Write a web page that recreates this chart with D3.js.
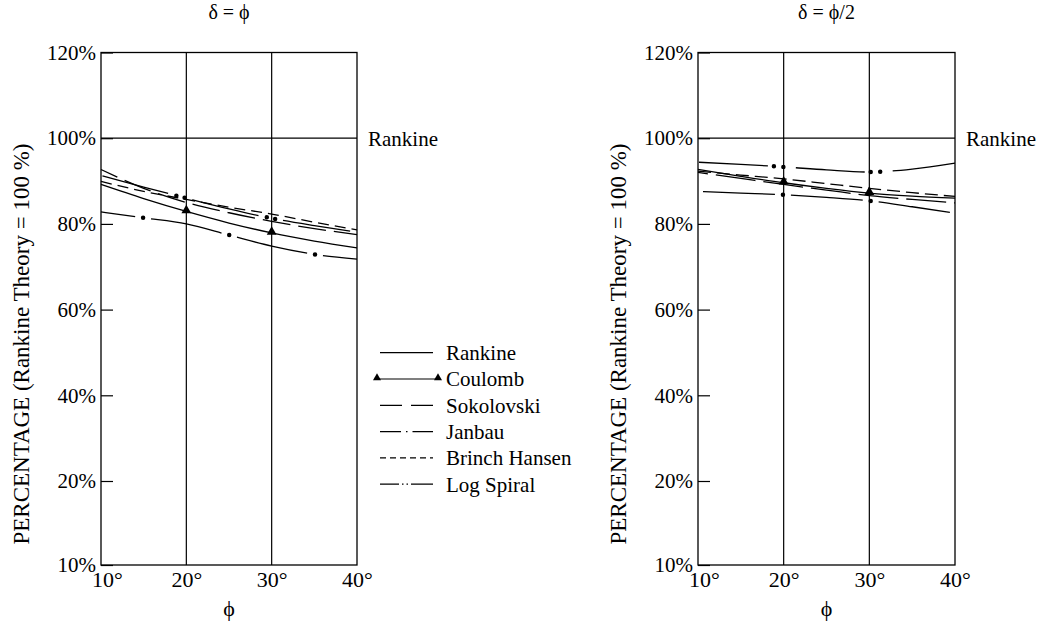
<!DOCTYPE html>
<html>
<head>
<meta charset="utf-8">
<script src="https://cdn.jsdelivr.net/npm/d3@7"></script>
<style>
  html, body { margin: 0; padding: 0; background: #fff; }
  svg { display: block; }
  svg text { font-family: "Liberation Serif", "Tinos", "Times New Roman", "DejaVu Serif", "Noto Serif", serif !important; }
</style>
</head>
<body>
<svg id="chart" width="1041" height="628"></svg>
<script>
// ---------- data ----------
const phi = [10, 15, 20, 25, 30, 35, 40];
const xTicks = [10, 20, 30, 40];
const yTicks = [10, 20, 40, 60, 80, 100, 120];
const seriesNames = ["Rankine", "Coulomb", "Sokolovski", "Janbau", "Brinch Hansen", "Log Spiral"];
const coulombMarkers = [20, 30];
const rankineLevel = 100;

// delta = phi
const coulombA    = [89.2, 85.9, 82.9, 80.2, 77.9, 76.0, 74.4];
const sokolovskiA = [92.7, 88.3, 85.0, 82.6, 80.6, 78.9, 77.5];
const janbauA     = [82.8, 81.4, 80.0, 77.4, 74.8, 72.9, 71.8];
const brinchA     = [89.9, 87.6, 85.7, 83.9, 82.3, 80.4, 78.6];
const logSpiralA  = [91.3, 88.6, 86.0, 83.5, 81.3, 79.6, 78.1];

// delta = phi/2
const coulombB    = [92.7, 91.1, 89.6, 88.3, 87.2, 86.5, 86.0];
const sokolovskiB = [92.0, 90.6, 89.2, 87.9, 86.6, 85.7, 84.9];
const janbauB     = [87.6, 87.2, 86.8, 86.2, 85.4, 84.0, 82.5];
const brinchB     = [92.3, 91.4, 90.5, 89.4, 88.3, 87.3, 86.4];
const logSpiralB  = [94.4, 93.9, 93.3, 92.6, 92.1, 92.8, 94.2];

const titleA = "δ = ϕ";
const titleB = "δ = ϕ/2";
const yLabel = "PERCENTAGE (Rankine Theory = 100 %)";
const xLabel = "ϕ";

// ---------- layout / styles ----------
const svg = d3.select("#chart");
const FONT = 21;
const plotTop = 52.5, plotBottom = 565;

const panels = [
  { left: 101, right: 357, title: titleA,
    data: { Coulomb: coulombA, Sokolovski: sokolovskiA, Janbau: janbauA, "Brinch Hansen": brinchA, "Log Spiral": logSpiralA },
    style: {
      Sokolovski: { dash: "28 8", off: 10 },
      Janbau: { dash: "72 16", off: 37.5, dots: "0 88", dotOff: 37.5 - 80 + 88 },
      "Brinch Hansen": { dash: "11 6", off: 0 },
      "Log Spiral": { dash: "68 25", off: 91.5, dots: "0 8.5 0 84.5", dotOff: 91.5 - 76.5 }
    } },
  { left: 698, right: 955, title: titleB,
    data: { Coulomb: coulombB, Sokolovski: sokolovskiB, Janbau: janbauB, "Brinch Hansen": brinchB, "Log Spiral": logSpiralB },
    style: {
      Sokolovski: { dash: "40 8", off: 30 },
      Janbau: { dash: "72 16", off: 83, dots: "0 88", dotOff: 83 - 80 },
      "Brinch Hansen": { dash: "13 6", off: 0 },
      "Log Spiral": { dash: "69 28", off: 96, dots: "0 9.5 0 87.5", dotOff: 96 - 75 }
    } }
];

const y = d3.scaleLinear().domain([10, 20, 120]).range([plotBottom, 481, plotTop]);

panels.forEach((p, pi) => {
  const x = d3.scaleLinear().domain([10, 40]).range([p.left, p.right]);
  const g = svg.append("g");

  // title
  g.append("text").attr("x", (p.left + p.right) / 2).attr("y", 19)
    .attr("text-anchor", "middle").attr("font-size", 20).text(p.title);

  // frame
  g.append("rect").attr("x", p.left).attr("y", plotTop)
    .attr("width", p.right - p.left).attr("height", plotBottom - plotTop)
    .attr("fill", "none").attr("stroke", "#000").attr("stroke-width", 1.3);

  // vertical grid lines at interior ticks
  g.selectAll(".vgrid").data(xTicks.slice(1, -1)).join("line")
    .attr("x1", d => x(d)).attr("x2", d => x(d))
    .attr("y1", plotTop).attr("y2", plotBottom)
    .attr("stroke", "#000").attr("stroke-width", 1.2);

  // y axis
  const yAxis = d3.axisLeft(y).tickValues(yTicks)
    .tickFormat(d => d + "%").tickSizeInner(-12).tickSizeOuter(0).tickPadding(5);
  const ya = g.append("g").attr("transform", `translate(${p.left},0)`).call(yAxis);
  ya.attr("font-family", null);
  ya.select(".domain").remove();
  ya.selectAll(".tick line").attr("stroke", "#000").attr("stroke-width", 1.2);
  ya.selectAll(".tick text").attr("font-size", FONT).attr("fill", "#000");

  // x axis
  const xAxis = d3.axisBottom(x).tickValues(xTicks)
    .tickFormat(d => d + "°").tickSize(0).tickPadding(6);
  const xa = g.append("g").attr("transform", `translate(0,${plotBottom})`).call(xAxis);
  xa.attr("font-family", null);
  xa.select(".domain").remove();
  xa.selectAll(".tick text").attr("font-size", 22).attr("fill", "#000")
    .attr("dx", (d, i) => i === 0 ? 6 : 0);

  // axis labels
  g.append("text").attr("x", (p.left + p.right) / 2).attr("y", 616)
    .attr("text-anchor", "middle").attr("font-size", 22).text(xLabel);
  g.append("text")
    .attr("transform", `translate(${p.left - 72},344) rotate(-90)`)
    .attr("text-anchor", "middle").attr("font-size", 23).text(yLabel);

  // Rankine 100% line
  g.append("line").attr("x1", p.left).attr("x2", p.right)
    .attr("y1", y(rankineLevel)).attr("y2", y(rankineLevel))
    .attr("stroke", "#000").attr("stroke-width", 1.2);
  g.append("text").attr("x", p.right + 11).attr("y", y(rankineLevel))
    .attr("dy", "0.35em").attr("font-size", FONT).text("Rankine");

  // curves
  const line = d3.line().x((d, i) => x(phi[i])).y(d => y(d)).curve(d3.curveMonotoneX);
  seriesNames.slice(1).forEach(name => {
    const vals = p.data[name];
    const st = p.style[name] || {};
    const path = g.append("path").datum(vals).attr("d", line)
      .attr("fill", "none").attr("stroke", "#000").attr("stroke-width", 1.3);
    if (st.dash) path.attr("stroke-dasharray", st.dash).attr("stroke-dashoffset", st.off);
    if (st.dots) {
      g.append("path").datum(vals).attr("d", line)
        .attr("fill", "none").attr("stroke", "#000").attr("stroke-width", 4.5)
        .attr("stroke-linecap", "round")
        .attr("stroke-dasharray", st.dots).attr("stroke-dashoffset", st.dotOff);
    }
    if (name === "Coulomb") {
      g.selectAll(".tri").data(coulombMarkers).join("path")
        .attr("d", d3.symbol(d3.symbolTriangle).size(42))
        .attr("transform", d => `translate(${x(d)},${y(vals[phi.indexOf(d)]) - 1})`)
        .attr("fill", "#000");
    }
  });
});

// ---------- legend ----------
const legendDash = {
  "Rankine": null, "Coulomb": null, "Sokolovski": "22 9",
  "Janbau": "21 5 1.5 5 21 100", "Brinch Hansen": "6 4",
  "Log Spiral": "19 3 1.5 3 1.5 3 23 100"
};
const lg = svg.append("g");
seriesNames.forEach((name, i) => {
  const ly = 352.7 + i * 26.3;
  const l = lg.append("line").attr("x1", 380).attr("x2", 433).attr("y1", ly).attr("y2", ly)
    .attr("stroke", "#000").attr("stroke-width", 1.2);
  if (legendDash[name]) l.attr("stroke-dasharray", legendDash[name]);
  if (name === "Coulomb") {
    l.attr("x1", 377).attr("x2", 438);
    lg.selectAll(".ltri").data([377, 438]).join("path")
      .attr("d", d3.symbol(d3.symbolTriangle).size(28))
      .attr("transform", d => `translate(${d},${ly - 1})`).attr("fill", "#000");
  }
  lg.append("text").attr("x", 446).attr("y", ly).attr("dy", "0.35em")
    .attr("font-size", FONT).text(name);
});
</script>
</body>
</html>
